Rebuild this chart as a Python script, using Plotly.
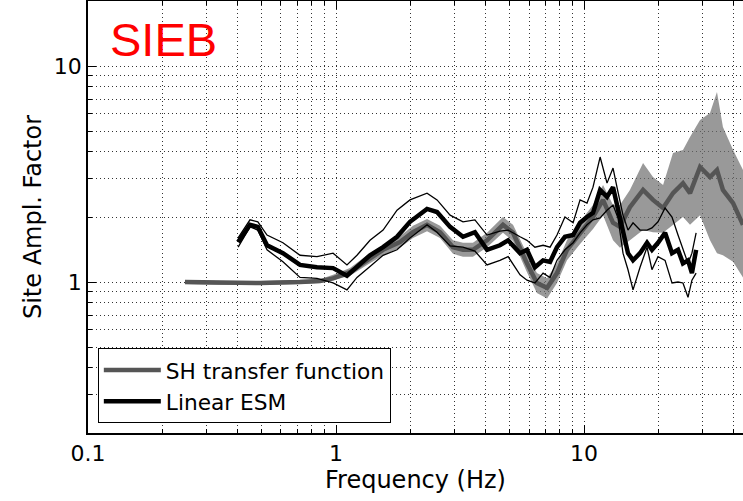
import numpy as np
import plotly.graph_objects as go

# ---- SH transfer function (gray) ----
sh_freq = [0.246, 0.340, 0.494, 0.716, 0.861, 0.973, 1.138, 1.334, 1.548, 1.811, 2.043, 2.328,
           2.626, 2.963, 3.251, 3.566, 4.064, 4.711, 5.172, 5.888, 6.457, 7.096, 7.780, 8.536,
           9.638, 10.87, 11.93, 13.09, 13.96, 15.31, 17.30, 18.97, 20.83, 22.84, 25.06, 26.75,
           29.36, 32.21, 34.36, 36.31, 39.90, 43.75]
sh_amp = [1.00, 0.99, 0.99, 1.00, 1.01, 1.04, 1.11, 1.26, 1.41, 1.53, 1.70, 1.84,
          1.70, 1.45, 1.41, 1.41, 1.56, 1.84, 1.69, 1.22, 0.99, 0.94, 1.10, 1.41,
          1.69, 2.00, 2.40, 1.88, 1.80, 2.22, 2.67, 2.40, 2.20, 2.58, 2.87, 2.58,
          3.41, 3.06, 3.30, 2.67, 2.32, 1.84]
sh_upper = [1.02, 1.01, 1.01, 1.02, 1.03, 1.08, 1.16, 1.33, 1.48, 1.63, 1.82, 1.96,
            1.82, 1.56, 1.52, 1.52, 1.69, 2.00, 1.84, 1.35, 1.10, 1.04, 1.22, 1.56,
            1.90, 2.27, 2.81, 2.27, 2.27, 2.67, 3.56, 3.06, 2.81, 3.96, 4.08, 4.69,
            5.62, 6.06, 7.58, 5.22, 4.08, 3.30]
sh_lower = [0.98, 0.97, 0.97, 0.98, 0.99, 1.02, 1.07, 1.20, 1.33, 1.44, 1.60, 1.72,
            1.60, 1.35, 1.31, 1.31, 1.45, 1.69, 1.55, 1.11, 0.89, 0.84, 0.99, 1.26,
            1.50, 1.76, 2.04, 1.56, 1.44, 1.56, 1.74, 1.70, 1.69, 1.84, 2.00, 1.84,
            2.04, 1.56, 1.36, 1.33, 1.24, 1.05]

# ---- Linear ESM (black) ----
esm_freq = [0.403, 0.450, 0.484, 0.527, 0.611, 0.716, 0.838, 0.973, 1.107, 1.215, 1.371, 1.548,
            1.762, 1.987, 2.328, 2.555, 2.884, 3.251, 3.631, 4.064, 4.581, 4.943, 5.521, 5.888,
            6.339, 6.839, 7.295, 7.780, 8.375, 9.036, 9.638, 10.28, 10.87, 11.61, 12.38, 13.09,
            13.71, 14.36, 15.04, 15.76, 16.82, 17.95, 18.79, 19.87, 21.22, 22.63, 23.93, 25.06,
            26.26, 27.23, 28.31]
esm_mean = [1.53, 1.84, 1.80, 1.48, 1.36, 1.20, 1.17, 1.16, 1.07, 1.17, 1.33, 1.45,
            1.62, 1.90, 2.18, 2.11, 1.80, 1.62, 1.70, 1.41, 1.48, 1.56, 1.36, 1.41,
            1.17, 1.26, 1.24, 1.45, 1.62, 1.65, 1.88, 2.00, 2.09, 2.67, 2.48, 2.75,
            2.15, 1.74, 1.36, 1.26, 1.36, 1.52, 1.41, 1.52, 1.69, 1.36, 1.41, 1.22,
            1.26, 1.10, 1.41]
esm_upper = [1.60, 1.94, 1.90, 1.65, 1.52, 1.33, 1.31, 1.36, 1.20, 1.33, 1.56, 1.74,
             2.15, 2.40, 2.58, 2.40, 2.04, 1.90, 1.94, 1.65, 1.72, 1.74, 1.62, 1.56,
             1.45, 1.48, 1.45, 1.65, 2.00, 1.88, 2.40, 2.32, 2.75, 3.79, 2.87, 3.37,
             2.61, 2.04, 1.74, 1.88, 1.74, 1.74, 1.78, 1.90, 2.20, 2.00, 1.65, 1.41,
             1.22, 1.36, 1.69]
esm_lower = [1.45, 1.80, 1.74, 1.41, 1.24, 1.05, 1.04, 0.99, 0.92, 1.05, 1.18, 1.33,
             1.41, 1.60, 1.84, 1.70, 1.47, 1.45, 1.39, 1.20, 1.26, 1.31, 1.08, 1.02,
             0.99, 1.10, 1.05, 1.26, 1.41, 1.52, 1.69, 1.84, 1.94, 1.98, 2.15, 2.27,
             1.98, 1.36, 1.14, 0.92, 1.17, 1.45, 1.14, 1.31, 1.26, 0.99, 1.00, 0.99,
             0.85, 1.02, 1.10]

# ---- ticks ----
x_major = [0.1, 1, 10]
x_major_text = ["0.1", "1", "10"]
y_major = [1, 10]
y_major_text = ["1", "10"]
x_minor = [m * d for d in (0.1, 1, 10) for m in range(2, 10)]
y_minor = [m * d for d in (0.1, 1, 10) for m in range(2, 10)]

station = "SIEB"

fig = go.Figure()

# SH band
fig.add_trace(go.Scatter(
    x=list(sh_freq) + list(sh_freq[::-1]),
    y=list(sh_upper) + list(sh_lower[::-1]),
    fill="toself", fillcolor="rgba(110,110,110,0.7)",
    line=dict(width=0), mode="lines", hoverinfo="skip", showlegend=False))
# SH line
fig.add_trace(go.Scatter(x=sh_freq, y=sh_amp, mode="lines", name="SH transfer function",
                         line=dict(color="#555555", width=4.5)))
# ESM thin bounds
for arr in (esm_upper, esm_lower):
    fig.add_trace(go.Scatter(x=esm_freq, y=arr, mode="lines", showlegend=False,
                             line=dict(color="black", width=1.3)))
# ESM mean
fig.add_trace(go.Scatter(x=esm_freq, y=esm_mean, mode="lines", name="Linear ESM",
                         line=dict(color="black", width=4.5)))

grid_kw = dict(showgrid=True, gridcolor="#333333", griddash="1px,3px", gridwidth=1)

fig.update_xaxes(
    type="log", range=[-1, np.log10(43.75)], automargin=False,
    tickmode="array", tickvals=x_major, ticktext=x_major_text,
    ticks="inside", ticklen=8, tickcolor="black", tickwidth=1,
    showline=True, linecolor="black", linewidth=1.5, mirror="allticks",
    tickfont=dict(family="DejaVu Sans", size=22, color="black"),
    minor=dict(tickmode="array", tickvals=x_minor, ticks="inside", ticklen=4,
               tickcolor="black", **grid_kw),
    title=dict(text="Frequency (Hz)", font=dict(family="DejaVu Sans", size=24, color="black"),
               standoff=3),
    zeroline=False, **grid_kw)
fig.update_yaxes(
    type="log", range=[np.log10(0.2), np.log10(20)], automargin=False,
    tickmode="array", tickvals=y_major, ticktext=y_major_text,
    ticks="inside", ticklen=8, tickcolor="black", tickwidth=1,
    showline=True, linecolor="black", linewidth=1.5, mirror=False,
    tickfont=dict(family="DejaVu Sans", size=22, color="black"),
    minor=dict(tickmode="array", tickvals=y_minor, ticks="inside", ticklen=4,
               tickcolor="black", **grid_kw),
    title=dict(text="Site Ampl. Factor", font=dict(family="DejaVu Sans", size=24, color="black"),
               standoff=5),
    zeroline=False, **grid_kw)

fig.add_annotation(text=station, xref="paper", yref="paper", x=0.03, y=0.978,
                   xanchor="left", yanchor="top", showarrow=False,
                   font=dict(family="Liberation Sans", size=47, color="red"))

fig.update_layout(
    width=743, height=501,
    margin=dict(l=88, r=0, t=1, b=68, autoexpand=False),
    paper_bgcolor="white", plot_bgcolor="white",
    showlegend=True,
    legend=dict(x=0.015, y=0.022, xanchor="left", yanchor="bottom",
                bgcolor="white", bordercolor="black", borderwidth=1,
                font=dict(family="DejaVu Sans", size=21.7, color="black"),
                itemwidth=57, tracegroupgap=0),
)

fig.write_html("out.html", config={"displayModeBar": False},
               post_script="document.body.style.margin='0';document.body.style.overflow='hidden';")
